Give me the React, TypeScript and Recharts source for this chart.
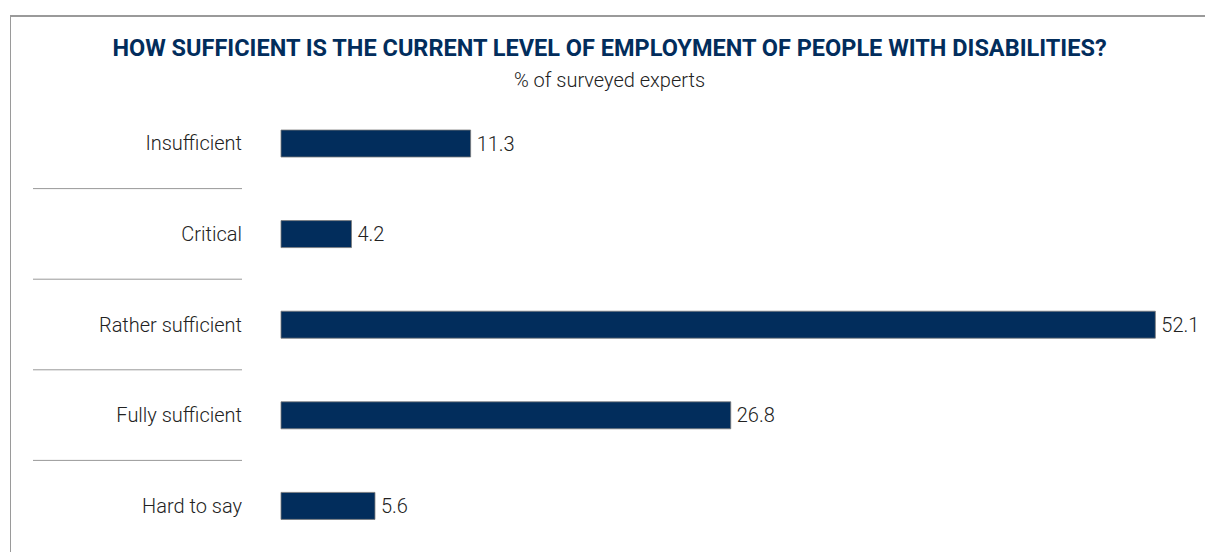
import React from "react";
import { Bar, BarChart, LabelList, XAxis, YAxis } from "recharts";

const categories = ["Insufficient", "Critical", "Rather sufficient", "Fully sufficient", "Hard to say"];
const shares = [11.3, 4.2, 52.1, 26.8, 5.6];

const chartData = categories.map((name, i) => ({ name, value: shares[i] }));

const W = 1205;
const H = 552;
const TOP = 98;
const BOTTOM = 1;
const band = (H - TOP - BOTTOM) / categories.length;
const font = "'Roboto', sans-serif";
const navy = "#022d5c";

function CategoryTick(props: any) {
  const { x, y, payload, index } = props;
  return (
    <g>
      <text x={x} y={y} dy={7} textAnchor="end" fontSize={20} fontWeight={300} fill="#222" fontFamily={font}>
        {payload.value}
      </text>
      {index < categories.length - 1 && (
        <line x1={x - 209} x2={x} y1={y + band / 2} y2={y + band / 2} stroke="#999" strokeWidth={1} />
      )}
    </g>
  );
}

export default function App() {
  return (
    <div style={{ position: "absolute", left: 0, top: 0, width: W, height: H, background: "#fff" }}>
      <div
        style={{
          position: "absolute",
          left: 10,
          top: 15,
          width: W - 10,
          height: H - 15,
          borderLeft: "1px solid #9a9a9a",
          borderTop: "2px solid #9a9a9a",
        }}
      />
      <div
        style={{
          position: "absolute",
          left: 12,
          width: W - 10,
          top: 34,
          textAlign: "center",
          fontFamily: font,
          fontWeight: 700,
          fontSize: 23.5,
          color: navy,
          lineHeight: "28px",
        }}
      >
        HOW SUFFICIENT IS THE CURRENT LEVEL OF EMPLOYMENT OF PEOPLE WITH DISABILITIES?
      </div>
      <div
        style={{
          position: "absolute",
          left: 12,
          width: W - 10,
          top: 69,
          textAlign: "center",
          fontFamily: font,
          fontWeight: 300,
          fontSize: 20,
          color: "#222",
          lineHeight: "22px",
        }}
      >
        % of surveyed experts
      </div>
      <div style={{ position: "absolute", left: 0, top: 0 }}>
        <BarChart
          width={W}
          height={H}
          data={chartData}
          layout="vertical"
          margin={{ top: TOP, right: 1, bottom: BOTTOM, left: 0 }}
        >
          <XAxis type="number" domain={[0, 55]} hide />
          <YAxis
            type="category"
            dataKey="name"
            width={281}
            axisLine={false}
            tickLine={false}
            tickMargin={33}
            tick={<CategoryTick />}
            interval={0}
          />
          <Bar dataKey="value" fill={navy} stroke="#7a7a7a" strokeWidth={0.8} barSize={27} isAnimationActive={false}>
            <LabelList
              dataKey="value"
              position="right"
              offset={6}
              fill="#222"
              fontSize={20}
              fontWeight={300}
              fontFamily={font}
            />
          </Bar>
        </BarChart>
      </div>
    </div>
  );
}
